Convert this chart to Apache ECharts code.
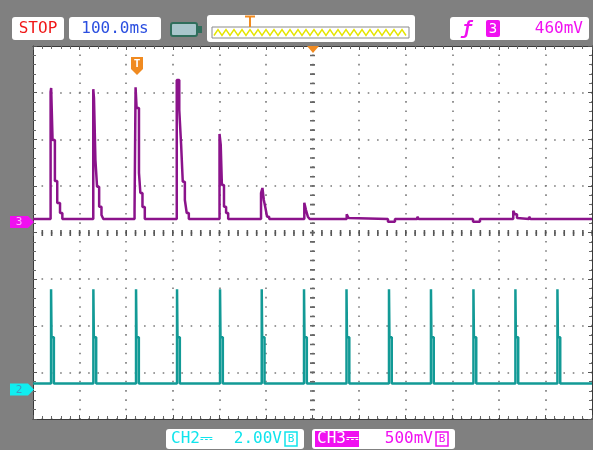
<!DOCTYPE html>
<html><head><meta charset="utf-8">
<script src="https://cdn.jsdelivr.net/npm/echarts@6/dist/echarts.min.js"></script>
<style>html,body{margin:0;padding:0;background:#808080}#c{width:593px;height:450px}</style>
</head><body><div id="c"></div>
<script>
// ---- readout texts ----
const statusText = 'STOP';
const timebaseText = '100.0ms';
const trigLevelText = '460mV';
const trigSource = '3';
const ch2ScaleText = '2.00V';
const ch3ScaleText = '500mV';

// ---- scope settings ----
const msPerDiv = 100;          // horizontal: 12 divisions
const ch3VoltsPerDiv = 0.5;    // CH3 500 mV/div
const ch2VoltsPerDiv = 2.0;    // CH2 2.00 V/div
const ch3GroundDiv = 0.225;    // CH3 ground marker (divisions from centre)
const ch2GroundDiv = -3.37;    // CH2 ground marker

// ---- CH3 (purple) samples: time (ms, 0 = trigger) and volts, held until next sample ----
const ch3Time = [-600,
  -562.2,-561.0,-558.0,-553.0,-548.0,-542.0,-537.0,
  -470.6,-469.1,-466.0,-462.5,-458.0,-453.0,-449.0,
  -382.0,-379.8,-377.6,-372.5,-369.5,-365.0,-360.0,
  -291.4,-286.0,-282.0,-278.5,-274.0,-270.0,-265.5,
  -199.6,-197.0,-194.5,-190.0,-185.5,-181.0,
  -110.5,-107.5,-104.5,-101.0,-97.5,-93.0,
  -17.6,-14.0,-10.0,-6.0,
  73.4,77.5,81.5,
  162,177,
  225,228,
  344.6,359.5,
  430.9,434.5,439,443,
  465,468,
  600];
const ch3Volt = [0.032,
  1.395,1.438,0.880,0.440,0.204,0.097,0.032,
  1.424,1.330,0.665,0.379,0.164,0.075,0.032,
  0.129,1.445,1.223,0.526,0.311,0.161,0.032,
  1.524,1.200,0.826,0.432,0.236,0.097,0.032,
  0.944,0.826,0.397,0.164,0.097,0.032,
  0.311,0.365,0.236,0.150,0.057,0.032,
  0.207,0.129,0.057,0.032,
  0.083,0.043,0.032,
  0.003,0.032,
  0.057,0.032,
  0.003,0.032,
  0.121,0.083,0.043,0.032,
  0.057,0.032,
  0.032];

// ---- CH2 (cyan) pulses: start times (ms) and levels (V) ----
const ch2PulseTime = [-561.2,-470.4,-378.8,-290.8,-198.5,-109.0,-18.2,73.0,164.2,254.3,345.5,435.6,525.8];
const ch2PeakV = 4.31;
const ch2MidV = 2.25;
const ch2BaseV = 0.258;
const ch2PeakMs = 1.0;
const ch2PulseMs = 6.0;

// ---- build series data (in screen divisions) ----
const ch3Data = ch3Time.map((t, i) => [t, ch3GroundDiv + ch3Volt[i] / ch3VoltsPerDiv]);
const ch2Data = [[-600, ch2GroundDiv + ch2BaseV / ch2VoltsPerDiv]];
ch2PulseTime.forEach(t => {
  ch2Data.push([t, ch2GroundDiv + ch2PeakV / ch2VoltsPerDiv]);
  ch2Data.push([t + ch2PeakMs, ch2GroundDiv + ch2MidV / ch2VoltsPerDiv]);
  ch2Data.push([t + ch2PulseMs, ch2GroundDiv + ch2BaseV / ch2VoltsPerDiv]);
});
ch2Data.push([600, ch2GroundDiv + ch2BaseV / ch2VoltsPerDiv]);

const chart = echarts.init(document.getElementById('c'), null, {renderer: 'canvas'});
const FONT = '"DejaVu Sans Mono", monospace';
const dotStyle = {color: '#7a7a7a', width: 1.6, type: [1.6, 7.72], dashOffset: 0.8};
const borderLine = {show: true, onZero: false, lineStyle: {color: '#3a3a3a', width: 1}};
const tick = {show: true, inside: true, length: 4, lineStyle: {color: '#555'}};
const minor = {show: true, splitNumber: 5, length: 3, lineStyle: {color: '#666'}};

function xAx(pos, split) {
  return {type: 'value', min: -6 * msPerDiv, max: 6 * msPerDiv, interval: msPerDiv, position: pos,
    axisLine: borderLine, axisTick: tick, minorTick: minor, axisLabel: {show: false},
    splitLine: {show: split, lineStyle: dotStyle}};
}
function yAx(pos, split) {
  return {type: 'value', min: -4, max: 4, interval: 1, position: pos,
    axisLine: borderLine, axisTick: tick, minorTick: minor, axisLabel: {show: false},
    splitLine: {show: split, lineStyle: dotStyle}};
}

// zigzag of the memory bar
const zig = [];
for (let x = 214, k = 0; x <= 407; x += 4, k++) zig.push([x, k % 2 ? 29.5 : 35.5]);

function txt(x, y, s, color, size, align, extra) {
  return Object.assign({type: 'text', x: x, y: y, z: 110,
    style: {text: s, fill: color, font: (size || 16) + 'px ' + FONT, textAlign: align || 'left', textVerticalAlign: 'middle'}}, extra || {});
}
function box(x, y, w, h, fill, stroke) {
  return {type: 'rect', z: 100, shape: {x: x, y: y, width: w, height: h, r: 3},
    style: {fill: fill || '#fff', stroke: stroke || null, lineWidth: 1}};
}

const graphics = [
  // top readouts
  box(12, 17, 52, 23), txt(38, 29, statusText, '#f01818', 16, 'center'),
  box(69, 17, 92, 23), txt(115, 29, timebaseText, '#2b4fe0', 16, 'center'),
  {type: 'rect', z: 100, shape: {x: 171, y: 23, width: 26, height: 13, r: 2}, style: {fill: '#a8c6cc', stroke: '#2f6e5c', lineWidth: 2}},
  {type: 'rect', z: 100, shape: {x: 198, y: 26, width: 4, height: 7}, style: {fill: '#2f6e5c'}},
  box(207, 15, 208, 27),
  {type: 'rect', z: 101, shape: {x: 212, y: 27, width: 197, height: 11}, style: {fill: '#fff', stroke: '#8a8a8a', lineWidth: 1}},
  {type: 'polyline', z: 102, shape: {points: zig}, style: {stroke: '#e6e600', fill: null, lineWidth: 1.5}},
  {type: 'polyline', z: 102, shape: {points: [[245, 16.5], [255, 16.5]]}, style: {stroke: '#f08a20', lineWidth: 2}},
  {type: 'polyline', z: 102, shape: {points: [[250, 16], [250, 27]]}, style: {stroke: '#f08a20', lineWidth: 2}},
  box(450, 17, 139, 23),
  txt(467, 29, 'ƒ', '#f010f0', 18, 'center', {style: {text: 'ƒ', fill: '#f010f0', font: 'bold italic 18px ' + FONT, textAlign: 'center', textVerticalAlign: 'middle'}}),
  {type: 'rect', z: 105, shape: {x: 486, y: 20, width: 14, height: 17, r: 2}, style: {fill: '#f010f0'}},
  txt(493, 29, trigSource, '#ffffff', 14, 'center'),
  txt(583, 29, trigLevelText, '#f010f0', 16, 'right'),
  // bottom readouts
  box(166, 429, 138, 20),
  txt(171, 439, 'CH2⎓', '#10e4ec', 16, 'left'),
  txt(282, 439, ch2ScaleText, '#10e4ec', 16, 'right'),
  {type: 'rect', z: 105, shape: {x: 285, y: 432, width: 12, height: 14}, style: {fill: null, stroke: '#10e4ec', lineWidth: 1.5}},
  txt(291, 439.5, 'B', '#10e4ec', 11, 'center'),
  box(312, 429, 143, 20),
  {type: 'rect', z: 105, shape: {x: 315, y: 431, width: 44, height: 16}, style: {fill: '#f010f0'}},
  txt(317, 439, 'CH3⎓', '#ffffff', 16, 'left'),
  txt(433, 439, ch3ScaleText, '#f010f0', 16, 'right'),
  {type: 'rect', z: 105, shape: {x: 436, y: 432, width: 12, height: 14}, style: {fill: null, stroke: '#f010f0', lineWidth: 1.5}},
  txt(442, 439.5, 'B', '#f010f0', 11, 'center'),
  // ground markers
  {type: 'polygon', z: 100, shape: {points: [[10, 216], [28, 216], [34, 222], [28, 228], [10, 228]]}, style: {fill: '#f010f0'}},
  txt(19, 222.5, '3', '#ffb0ff', 11, 'center'),
  {type: 'polygon', z: 100, shape: {points: [[10, 383.5], [28, 383.5], [34, 389.5], [28, 395.5], [10, 395.5]]}, style: {fill: '#10eef0'}},
  txt(19, 390, '2', '#3c9cc0', 11, 'center'),
  // trigger position markers
  {type: 'polygon', z: 100, shape: {points: [[307, 46], [319, 46], [313, 53]]}, style: {fill: '#f08a20'}},
  {type: 'polygon', z: 100, shape: {points: [[131, 57], [143, 57], [143, 69], [137, 75], [131, 69]]}, style: {fill: '#f08a20'}},
  txt(137, 64, 'T', '#ffffff', 11, 'center', {style: {text: 'T', fill: '#fff', font: 'bold 11px ' + FONT, textAlign: 'center', textVerticalAlign: 'middle'}})
];

chart.setOption({
  animation: false,
  backgroundColor: '#808080',
  grid: {left: 33, top: 46, width: 559, height: 373, show: true, backgroundColor: '#ffffff', borderWidth: 0},
  xAxis: [xAx('bottom', true), xAx('top', false)],
  yAxis: [yAx('left', true), yAx('right', false)],
  series: [
    {type: 'line', name: 'CH2', data: ch2Data, step: 'end', showSymbol: false, symbol: 'none', z: 3,
      lineStyle: {color: '#129a96', width: 2.5}, silent: true},
    {type: 'line', name: 'CH3', data: ch3Data, step: 'end', showSymbol: false, symbol: 'none', z: 4,
      lineStyle: {color: '#8b138b', width: 2.5}, silent: true,
      markLine: {silent: true, symbol: ['none', 'none'], label: {show: false}, animation: false,
        emphasis: {disabled: true},
        data: [
          {yAxis: 0, lineStyle: {color: '#555', width: 6, type: [1.6, 7.72], dashOffset: 0.8}},
          {xAxis: 0, lineStyle: {color: '#666', width: 5, type: [1.6, 7.72], dashOffset: 0.8}}
        ]}}
  ],
  graphic: graphics
});
</script></body></html>
